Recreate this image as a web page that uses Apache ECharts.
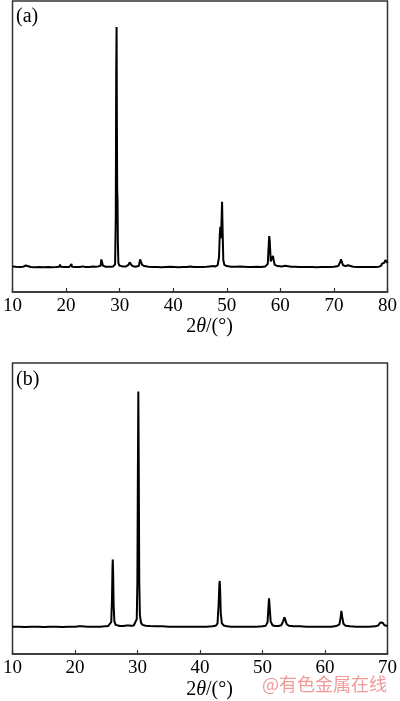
<!DOCTYPE html>
<html>
<head>
<meta charset="utf-8">
<script src="https://cdn.jsdelivr.net/npm/echarts@6/dist/echarts.min.js"></script>
<style>
html,body{margin:0;padding:0;background:#fff;}
#chart{width:400px;height:701px;}
</style>
</head>
<body>
<div id="chart"></div>
<script>
// Tick labels / ranges
const ticksA = [10, 20, 30, 40, 50, 60, 70, 80];
const ticksB = [10, 20, 30, 40, 50, 60, 70];
const panelLabels = ['(a)', '(b)'];
const watermark = '@有色金属在线';

// Pattern (a): [2θ, intensity (a.u.)]
const patternA = [
[10.0,88],[10.6,87],[11.3,86],[12.0,87],[12.35,87],[12.5,91],[12.65,87],[13.4,86],[14.2,85],[15.0,86],[15.8,85],[16.6,86],[17.4,85],[18.2,86],[18.75,87],[18.88,94],[19.0,87],[19.8,86],[20.6,86],[20.9,88],[21.0,96],[21.12,87],[21.8,86],[22.6,86],[23.1,88],[23.6,86],[24.4,86],[25.0,88],[25.4,87],[26.0,88],[26.45,90],[26.58,112],[26.67,117],[26.76,108],[26.9,90],[27.4,87],[28.2,87],[28.8,88],[29.15,95],[29.28,260],[29.36,760],[29.43,911],[29.49,560],[29.54,350],[29.6,320],[29.67,170],[29.76,100],[29.95,91],[30.5,88],[31.2,88],[31.7,94],[31.85,102],[31.95,104],[32.1,96],[32.4,89],[33.0,87],[33.6,90],[33.82,112],[33.93,118],[34.05,106],[34.2,93],[34.6,89],[35.4,87],[36.2,86],[37.0,86],[37.8,85],[38.6,86],[39.4,87],[40.2,86],[41.0,85],[41.8,86],[42.6,86],[43.2,88],[43.8,86],[44.6,86],[45.4,86],[46.2,87],[46.8,88],[47.1,94],[47.4,89],[47.9,88],[48.3,92],[48.55,120],[48.7,200],[48.8,224],[48.9,185],[49.0,230],[49.12,310],[49.22,210],[49.35,110],[49.55,93],[50.0,89],[50.8,87],[51.6,87],[52.4,88],[53.2,87],[54.0,86],[54.8,86],[55.6,87],[56.4,86],[57.2,88],[57.65,96],[57.82,160],[57.92,192],[58.02,175],[58.2,105],[58.4,108],[58.62,124],[58.75,110],[58.95,93],[59.5,89],[60.3,88],[60.9,90],[61.05,94],[61.25,89],[62.0,87],[62.8,87],[63.6,86],[64.4,86],[65.2,86],[66.0,86],[66.8,85],[67.6,86],[68.4,86],[69.2,86],[70.0,87],[70.8,89],[71.2,104],[71.33,112],[71.45,105],[71.7,92],[72.2,89],[72.6,92],[72.9,88],[73.6,87],[74.4,86],[75.2,86],[76.0,86],[76.8,86],[77.6,86],[78.4,87],[78.8,90],[79.0,98],[79.15,94],[79.4,100],[79.6,110],[79.8,104],[80.0,100]
];

// Pattern (b): [2θ, intensity (a.u.)]
const patternB = [
[10.0,94],[11,94],[12,93],[13,94],[14,94],[15,93],[16,94],[17,94],[18,93],[19,94],[20,94],[20.7,95],[20.9,97],[21.1,95],[22,94],[23,94],[24,94],[24.8,95],[25.3,96],[25.6,99],[25.8,110],[25.92,190],[26.0,300],[26.04,325],[26.1,280],[26.18,170],[26.3,112],[26.5,100],[26.8,97],[27.2,96],[27.5,98],[27.7,96],[28.0,96],[28.3,98],[28.5,103],[28.65,98],[29.0,97],[29.4,98],[29.7,103],[29.88,120],[29.98,250],[30.06,620],[30.13,902],[30.2,640],[30.28,250],[30.38,135],[30.55,108],[30.8,100],[31.3,97],[32,96],[33,95],[33.3,96],[34,95],[35,94],[36,94],[37,94],[38,94],[39,94],[40,94],[41,94],[42,95],[42.5,97],[42.8,105],[42.98,170],[43.1,240],[43.15,251],[43.22,220],[43.32,140],[43.5,105],[43.8,98],[44.3,95],[45,94],[46,94],[47,94],[48,94],[49,94],[50,95],[50.5,97],[50.8,108],[50.95,160],[51.05,191],[51.15,160],[51.3,112],[51.6,99],[52,96],[52.6,96],[53.0,99],[53.3,112],[53.5,126],[53.65,118],[53.85,103],[54.2,97],[55,95],[56,95],[56.3,96],[57,94],[58,94],[59,94],[60,94],[61,94],[61.8,96],[62.3,102],[62.5,125],[62.62,148],[62.75,128],[62.95,104],[63.3,97],[64,95],[65,94],[66,94],[67,94],[68,95],[68.5,98],[68.85,108],[69.05,114],[69.25,107],[69.5,99],[70,96]
];

const serif = '"Liberation Serif", "DejaVu Serif", serif';
const axisColor = '#333';

function xAxisCfg(idx, ticks, gap) {
  return {
    type: 'value', gridIndex: idx,
    min: ticks[0], max: ticks[ticks.length - 1], interval: 10,
    name: '{n|2}{i|θ}{n|/(°)}',
    nameLocation: 'middle', nameGap: gap,
    nameTextStyle: {
      padding: [0, 0, 0, 19],
      rich: {
        n: {fontFamily: serif, fontSize: 20, color: '#000'},
        i: {fontFamily: serif, fontSize: 20, fontStyle: 'italic', color: '#000'}
      }
    },
    axisLine: {show: true, lineStyle: {color: axisColor, width: 1.5}},
    axisTick: {show: true, inside: true, length: 4, lineStyle: {color: axisColor, width: 1.2}},
    axisLabel: {fontFamily: serif, fontSize: 19, color: '#000', margin: 5, showMinLabel: true, showMaxLabel: true},
    splitLine: {show: false}
  };
}
function yAxisCfg(idx) {
  return {
    type: 'value', gridIndex: idx, min: 0, max: 1000,
    axisLine: {show: false}, axisTick: {show: false}, axisLabel: {show: false}, splitLine: {show: false}
  };
}

const chart = echarts.init(document.getElementById('chart'), null, {renderer: 'canvas'});
chart.setOption({
  animation: false,
  backgroundColor: '#fff',
  grid: [
    {left: 8, top: 1, width: 382, height: 291, show: true, borderColor: axisColor, borderWidth: 1.5, backgroundColor: 'transparent'},
    {left: 8, top: 363, width: 382, height: 292, show: true, borderColor: axisColor, borderWidth: 1.5, backgroundColor: 'transparent'}
  ],
  xAxis: [xAxisCfg(0, ticksA, 21), xAxisCfg(1, ticksB, 26)],
  yAxis: [yAxisCfg(0), yAxisCfg(1)],
  series: [
    {type: 'line', xAxisIndex: 0, yAxisIndex: 0, data: patternA, showSymbol: false, lineStyle: {color: '#000', width: 2}, silent: true},
    {type: 'line', xAxisIndex: 1, yAxisIndex: 1, data: patternB, showSymbol: false, lineStyle: {color: '#000', width: 2}, silent: true}
  ],
  graphic: [
    {type: 'text', left: 16, top: 7, style: {text: panelLabels[0], font: '20px "Liberation Serif"', fill: '#000'}},
    {type: 'text', left: 16, top: 370, style: {text: panelLabels[1], font: '20px "Liberation Serif"', fill: '#000'}},
    {type: 'text', left: 262, top: 675, style: {text: watermark, font: '18px "Noto Sans CJK SC"', fill: '#f09a9a'}}
  ]
});
</script>
</body>
</html>
